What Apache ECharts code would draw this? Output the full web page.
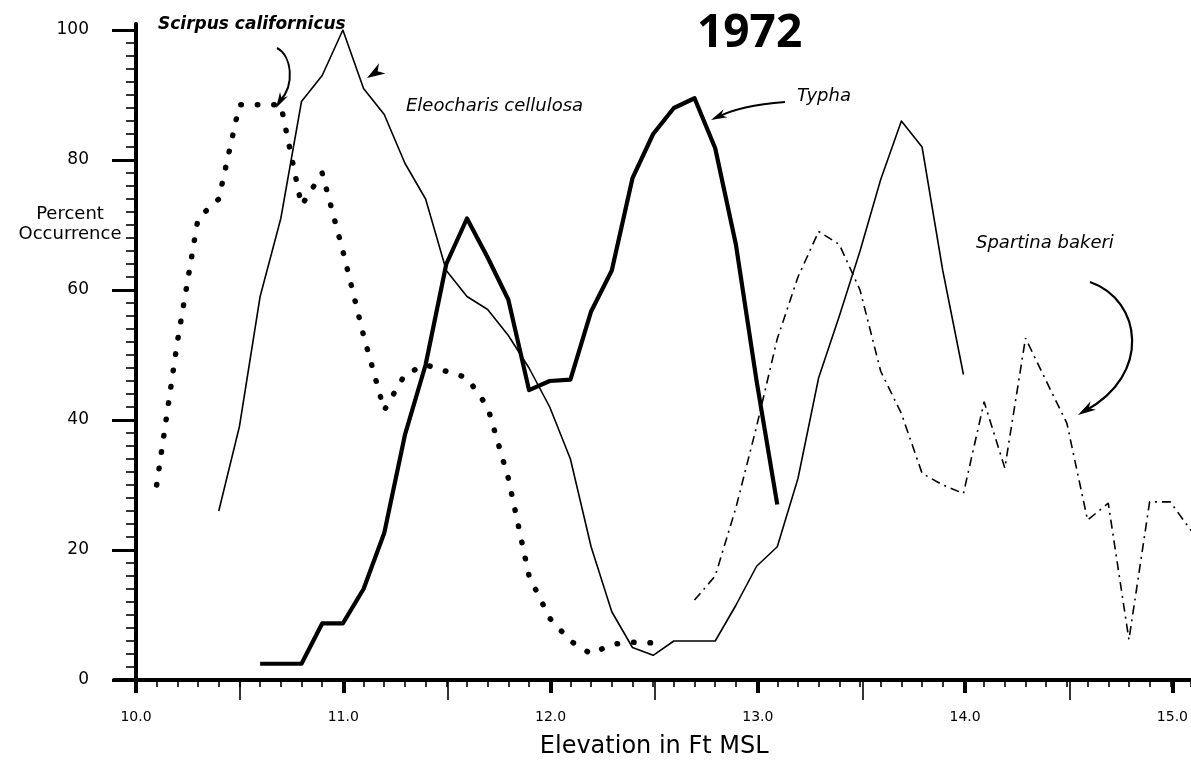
<!DOCTYPE html>
<html>
<head>
<meta charset="utf-8">
<script src="https://cdn.jsdelivr.net/npm/echarts@6/dist/echarts.min.js"></script>
<style>html,body{margin:0;padding:0;background:#fff;}#c{width:1191px;height:765px;}</style>
</head>
<body>
<div id="c"></div>
<script>
// ---- data ----
const scirpusX = [10.1,10.2,10.3,10.4,10.5,10.6,10.7,10.8,10.9,11.0,11.1,11.2,11.3,11.4,11.5,11.6,11.7,11.8,11.9,12.0,12.1,12.2,12.3,12.4,12.5];
const scirpusY = [30,52,71,74,88.5,88.5,88.5,73,78,66,53,41.5,47,48.5,47.5,46.5,42,31,16,9.5,6,4,5.5,5.8,5.7];

const eleoX = [10.4,10.5,10.6,10.7,10.8,10.9,11.0,11.1,11.2,11.3,11.4,11.5,11.6,11.7,11.8,11.9,12.0,12.1,12.2,12.3,12.4,12.5,12.6,12.7,12.8,12.9,13.0,13.1,13.2,13.3,13.4,13.5,13.6,13.7,13.8,13.9,14.0];
const eleoY = [26,39,59,71,89,93,100,91,87,79.5,74,63,59,57,53,48,42,34,20.5,10.5,5,3.8,6,6,6,11.5,17.5,20.5,31,46.5,56,66,77,86,82,63,47];

const typhaX = [10.6,10.7,10.8,10.9,11.0,11.1,11.2,11.3,11.4,11.5,11.6,11.7,11.8,11.9,12.0,12.1,12.2,12.3,12.4,12.5,12.6,12.7,12.8,12.9,13.0,13.1];
const typhaY = [2.5,2.5,2.5,8.7,8.7,14,22.6,37.7,48.5,64,71,65,58.5,44.6,46,46.2,56.7,63,77.2,84,88,89.5,81.8,67,46,27];

const spartinaX = [12.7,12.8,12.9,13.0,13.1,13.2,13.3,13.4,13.5,13.6,13.7,13.8,13.9,14.0,14.1,14.2,14.3,14.4,14.5,14.6,14.7,14.8,14.9,15.0,15.1];
const spartinaY = [12.3,16,26.5,39,52.5,62,69,67,60,47.5,41,31.8,30,28.7,42.8,32.6,52.6,46,39.5,24.6,27.2,6.2,27.4,27.4,23];

const xTickLabels = ['10.0','11.0','12.0','13.0','14.0','15.0'];
const yTickLabels = ['0','20','40','60','80','100'];

const pairs = (xs, ys) => xs.map((x, i) => [x, ys[i]]);

// ---- helpers for annotation arrows ----
function arrowHead(tx, ty, fx, fy, L, W) {
  const dx = tx - fx, dy = ty - fy, n = Math.hypot(dx, dy);
  const ux = dx / n, uy = dy / n, px = -uy, py = ux;
  const bx = tx - ux * L, by = ty - uy * L;
  const nx = tx - ux * L * 0.7, ny = ty - uy * L * 0.7;
  return {type: 'polygon', silent: true, z: 100,
    shape: {points: [[tx, ty], [bx + px * W / 2, by + py * W / 2], [nx, ny], [bx - px * W / 2, by - py * W / 2]]},
    style: {fill: '#000'}};
}
function curve(x1, y1, c1x, c1y, c2x, c2y, x2, y2, w) {
  return {type: 'bezierCurve', silent: true, z: 100,
    shape: {x1: x1, y1: y1, cpx1: c1x, cpy1: c1y, cpx2: c2x, cpy2: c2y, x2: x2, y2: y2},
    style: {stroke: '#000', lineWidth: w, fill: null}};
}
function label(text, x, y, font, align) {
  return {type: 'text', silent: true, z: 100,
    style: {text: text, x: x, y: y, font: font, fill: '#000', textAlign: align || 'left', textVerticalAlign: 'middle'}};
}

const chart = echarts.init(document.getElementById('c'), null, {renderer: 'canvas'});

const FONT = '"DejaVu Sans", sans-serif';
const hidden = {show: false};

const option = {
  animation: false,
  backgroundColor: '#fff',
  grid: [
    {left: 136, top: 30, width: 1059, height: 650},
    {left: 136, top: 30, width: 1038, height: 650},
    {left: 240, top: 30, width: 830, height: 650},
    {left: 114, top: 30, width: 1077, height: 650},
    {left: 136, top: 24, width: 1000, height: 656}
  ],
  xAxis: [
    {type: 'value', gridIndex: 0, min: 10, max: 15.1, interval: 0.1,
      axisLine: {show: true, onZero: false, lineStyle: {color: '#000', width: 4}},
      axisTick: {show: true, length: 7, lineStyle: {color: '#000', width: 1.6}},
      axisLabel: {show: false}, splitLine: {show: false}},
    {type: 'value', gridIndex: 1, min: 10, max: 15, interval: 1,
      axisLine: {show: false, onZero: false},
      axisTick: {show: true, length: 13, lineStyle: {color: '#000', width: 4}},
      axisLabel: {show: true, margin: 30, color: '#000', fontFamily: FONT, fontSize: 14,
        formatter: v => xTickLabels[Math.round(v - 10)]},
      splitLine: {show: false},
      name: 'Elevation in Ft MSL', nameLocation: 'middle', nameGap: 55,
      nameTextStyle: {color: '#000', fontFamily: FONT, fontSize: 24}},
    {type: 'value', gridIndex: 2, min: 10.5, max: 14.5, interval: 1,
      axisLine: {show: false, onZero: false},
      axisTick: {show: true, length: 20, lineStyle: {color: '#000', width: 1.6}},
      axisLabel: {show: false}, splitLine: {show: false}},
    {type: 'value', gridIndex: 3, min: 0, max: 1,
      axisLine: {show: true, onZero: false, lineStyle: {color: '#000', width: 4}},
      axisTick: hidden, axisLabel: hidden, splitLine: hidden},
    {type: 'value', gridIndex: 4, min: 0, max: 1, show: false}
  ],
  yAxis: [
    {type: 'value', gridIndex: 0, min: 0, max: 100, interval: 2,
      axisLine: {show: true, onZero: false, lineStyle: {color: '#000', width: 4}},
      axisTick: {show: true, length: 10, lineStyle: {color: '#000', width: 1.6}},
      axisLabel: {show: false}, splitLine: {show: false}},
    {type: 'value', gridIndex: 0, min: 0, max: 100, interval: 20, position: 'left', offset: 0,
      axisLine: {show: false, onZero: false},
      axisTick: {show: true, length: 24, lineStyle: {color: '#000', width: 3}},
      axisLabel: {show: true, margin: 47, color: '#000', fontFamily: FONT, fontSize: 17,
        formatter: v => yTickLabels[Math.round(v / 20)]},
      splitLine: {show: false}},
    {type: 'value', gridIndex: 1, min: 0, max: 100, show: false},
    {type: 'value', gridIndex: 2, min: 0, max: 100, show: false},
    {type: 'value', gridIndex: 3, min: 0, max: 100, show: false},
    {type: 'value', gridIndex: 4, min: 0, max: 1,
      axisLine: {show: true, onZero: false, lineStyle: {color: '#000', width: 4}},
      axisTick: hidden, axisLabel: hidden, splitLine: hidden}
  ],
  series: [
    {name: 'Scirpus californicus', type: 'line', xAxisIndex: 0, yAxisIndex: 0,
      data: pairs(scirpusX, scirpusY), symbol: 'none', smooth: false, clip: true,
      lineStyle: {color: '#000', width: 5.5, type: [0.5, 16], cap: 'round', join: 'round'}},
    {name: 'Eleocharis cellulosa', type: 'line', xAxisIndex: 0, yAxisIndex: 0,
      data: pairs(eleoX, eleoY), symbol: 'none', smooth: false, clip: true,
      lineStyle: {color: '#000', width: 1.6, type: 'solid', join: 'round'}},
    {name: 'Typha', type: 'line', xAxisIndex: 0, yAxisIndex: 0,
      data: pairs(typhaX, typhaY), symbol: 'none', smooth: false, clip: true,
      lineStyle: {color: '#000', width: 4.2, type: 'solid', join: 'round'}},
    {name: 'Spartina bakeri', type: 'line', xAxisIndex: 0, yAxisIndex: 0,
      data: pairs(spartinaX, spartinaY), symbol: 'none', smooth: false, clip: true,
      lineStyle: {color: '#000', width: 1.6, type: [9, 5, 2, 5]}}
  ],
  graphic: [
    label('1972', 697, 34, 'bold 46px "Open Sans", "DejaVu Sans", sans-serif'),
    label('Scirpus californicus', 158, 25, 'italic bold 17px ' + FONT),
    label('Eleocharis cellulosa', 406, 106, 'italic 18px ' + FONT),
    label('Typha', 797, 96, 'italic 18px ' + FONT),
    label('Spartina bakeri', 976, 243, 'italic 18px ' + FONT),
    label('Percent', 70, 214, '18px ' + FONT, 'center'),
    label('Occurrence', 70, 234, '18px ' + FONT, 'center'),
    // Scirpus arrow
    curve(277, 48, 292, 56, 295, 85, 280, 101, 2),
    arrowHead(276, 108, 284, 94, 16, 9),
    // Eleocharis arrowhead
    arrowHead(367, 78, 386, 66, 18, 12),
    // Typha arrow
    curve(785, 102, 760, 104, 735, 108, 718, 117, 2),
    arrowHead(711, 120, 726, 113, 16, 9),
    // Spartina arrow
    curve(1090, 282, 1142, 300, 1152, 375, 1085, 411, 2.2),
    arrowHead(1078, 415, 1094, 405, 18, 10)
  ]
};
chart.setOption(option);
</script>
</body>
</html>
